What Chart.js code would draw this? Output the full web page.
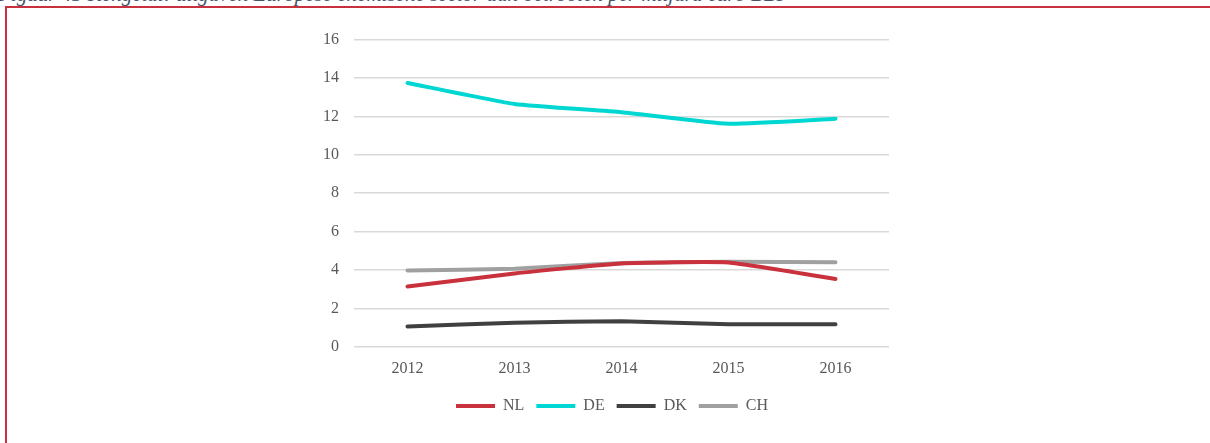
<!DOCTYPE html>
<html>
<head>
<meta charset="utf-8">
<script src="https://cdn.jsdelivr.net/npm/chart.js@4"></script>
<style>
  html, body { margin: 0; padding: 0; background: #fff; overflow: hidden; }
  body { width: 1210px; height: 443px; position: relative; }
  .caption {
    position: absolute; left: -2px; top: -18px; white-space: nowrap;
    font: italic 21px "Liberation Serif", serif; color: #44546a;
  }
  .frame {
    position: absolute; left: 5px; top: 6px; width: 1300px; height: 600px;
    border-left: 2px solid #c8323e; border-top: 2px solid #c8323e;
  }
  .wrap { position: absolute; left: 290px; top: 15px; width: 650px; height: 409px; }
</style>
</head>
<body>
<div class="caption">Figuur 43 Kengetal: uitgaven Europese chemische sector aan octrooien per miljard euro BBP</div>
<div class="frame"></div>
<div class="wrap"><canvas id="chart"></canvas></div>
<script>
// waarden
const years = ['2012', '2013', '2014', '2015', '2016'];
const nl = [3.14, 3.82, 4.34, 4.39, 3.53];
const de = [13.74, 12.65, 12.22, 11.62, 11.88];
const dk = [1.06, 1.25, 1.33, 1.18, 1.18];
const ch = [3.97, 4.07, 4.36, 4.43, 4.40];
const yTicks = [0, 2, 4, 6, 8, 10, 12, 14, 16];

const serif = '"Liberation Serif", serif';

function line(label, data, color) {
    return {
        label,
        data,
        borderColor: color,
        backgroundColor: color,
        borderWidth: 4,
        borderCapStyle: 'round',
        borderJoinStyle: 'round',
        pointRadius: 0,
        tension: 0.15,
        fill: false
    };
}

new Chart(document.getElementById('chart'), {
    type: 'line',
    data: {
        labels: years,
        datasets: [
            line('NL', nl, '#c9313d'),
            line('DE', de, '#00d7d2'),
            line('DK', dk, '#404040'),
            line('CH', ch, '#a0a0a0')
        ]
    },
    options: {
        responsive: true,
        maintainAspectRatio: false,
        animation: false,
        layout: { padding: { left: 18, right: 24, top: 0, bottom: 0 } },
        plugins: {
            legend: {
                position: 'bottom',
                labels: {
                    usePointStyle: true,
                    pointStyle: 'line',
                    pointStyleWidth: 39,
                    boxHeight: 4,
                    color: '#595959',
                    font: { family: serif, size: 16 },
                    padding: 12
                }
            },
            tooltip: { enabled: false }
        },
        scales: {
            x: {
                offset: true,
                grid: { display: false },
                border: { display: false },
                ticks: { color: '#595959', font: { family: serif, size: 16 }, padding: 4 },
                afterFit: axis => { axis.height += 4; }
            },
            y: {
                min: 0,
                max: 16,
                afterBuildTicks: axis => { axis.ticks = yTicks.map(v => ({ value: v })); },
                grid: { color: '#d9d9d9', lineWidth: 1.5, drawTicks: false },
                border: { display: false },
                ticks: { color: '#595959', font: { family: serif, size: 16 }, padding: 15 }
            },
            // lege rechteras zodat de legenda iets naar rechts schuift
            y2: {
                position: 'right',
                display: true,
                grid: { display: false },
                border: { display: false },
                ticks: { display: false },
                afterFit: axis => { axis.width = 27; }
            }
        }
    }
});
</script>
</body>
</html>
